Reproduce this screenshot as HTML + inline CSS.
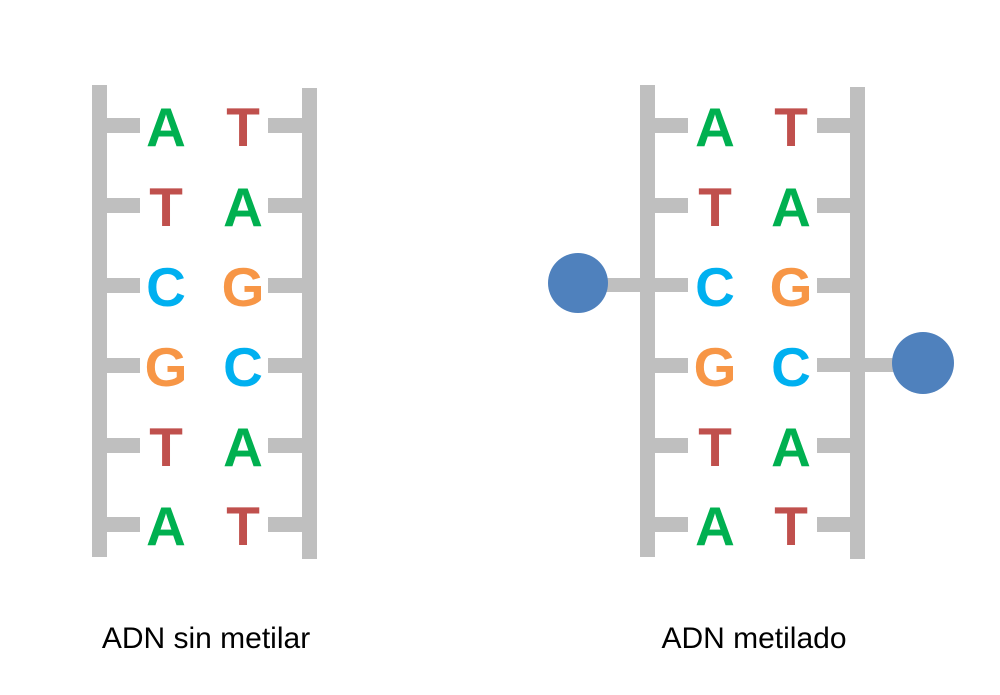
<!DOCTYPE html>
<html>
<head>
<meta charset="utf-8">
<style>
  html, body { margin: 0; padding: 0; background: #ffffff; }
  svg { display: block; }
  .b { font-family: "Liberation Sans", Arial, sans-serif; font-weight: bold; font-size: 55px; }
  .l { font-family: "Liberation Sans", Arial, sans-serif; font-size: 30px; fill: #000; }
</style>
</head>
<body>
<svg width="1000" height="695" viewBox="0 0 1000 695" xmlns="http://www.w3.org/2000/svg">
  <rect width="1000" height="695" fill="#ffffff"/>

  <!-- LEFT LADDER -->
  <g fill="#bfbfbf">
    <rect x="92" y="85" width="15" height="472"/>
    <rect x="302" y="88" width="15" height="471"/>
    <rect x="92" y="118" width="48" height="15"/>
    <rect x="92" y="198" width="48" height="15"/>
    <rect x="92" y="278" width="48" height="15"/>
    <rect x="92" y="358" width="48" height="15"/>
    <rect x="92" y="438" width="48" height="15"/>
    <rect x="92" y="517" width="48" height="15"/>
    <rect x="268" y="118" width="40" height="15"/>
    <rect x="268" y="198" width="40" height="15"/>
    <rect x="268" y="278" width="40" height="15"/>
    <rect x="268" y="358" width="40" height="15"/>
    <rect x="268" y="438" width="40" height="15"/>
    <rect x="268" y="517" width="40" height="15"/>
  </g>
  <g class="b" text-anchor="middle">
    <text x="166" y="146" fill="#00b050">A</text>
    <text x="243" y="146" fill="#c0504d">T</text>
    <text x="166" y="226" fill="#c0504d">T</text>
    <text x="243" y="226" fill="#00b050">A</text>
    <text x="166" y="306" fill="#00b0f0">C</text>
    <text x="243" y="306" fill="#f79646">G</text>
    <text x="166" y="386" fill="#f79646">G</text>
    <text x="243" y="386" fill="#00b0f0">C</text>
    <text x="166" y="466" fill="#c0504d">T</text>
    <text x="243" y="466" fill="#00b050">A</text>
    <text x="166" y="545" fill="#00b050">A</text>
    <text x="243" y="545" fill="#c0504d">T</text>
  </g>
  <text class="l" x="206" y="648" text-anchor="middle">ADN sin metilar</text>

  <!-- RIGHT LADDER -->
  <g fill="#bfbfbf">
    <rect x="640" y="85" width="15" height="472"/>
    <rect x="850" y="87" width="15" height="472"/>
    <rect x="640" y="118" width="48" height="15"/>
    <rect x="640" y="198" width="48" height="15"/>
    <rect x="600" y="278" width="88" height="14"/>
    <rect x="640" y="358" width="48" height="15"/>
    <rect x="640" y="438" width="48" height="15"/>
    <rect x="640" y="517" width="48" height="15"/>
    <rect x="817" y="118" width="40" height="15"/>
    <rect x="817" y="198" width="40" height="15"/>
    <rect x="817" y="278" width="40" height="15"/>
    <rect x="817" y="358" width="90" height="14"/>
    <rect x="817" y="438" width="40" height="15"/>
    <rect x="817" y="517" width="40" height="15"/>
  </g>
  <circle cx="578" cy="283" r="30" fill="#4f81bd"/>
  <circle cx="923" cy="363" r="31" fill="#4f81bd"/>
  <g class="b" text-anchor="middle">
    <text x="715" y="146" fill="#00b050">A</text>
    <text x="791" y="146" fill="#c0504d">T</text>
    <text x="715" y="226" fill="#c0504d">T</text>
    <text x="791" y="226" fill="#00b050">A</text>
    <text x="715" y="306" fill="#00b0f0">C</text>
    <text x="791" y="306" fill="#f79646">G</text>
    <text x="715" y="386" fill="#f79646">G</text>
    <text x="791" y="386" fill="#00b0f0">C</text>
    <text x="715" y="466" fill="#c0504d">T</text>
    <text x="791" y="466" fill="#00b050">A</text>
    <text x="715" y="545" fill="#00b050">A</text>
    <text x="791" y="545" fill="#c0504d">T</text>
  </g>
  <text class="l" x="754" y="648" text-anchor="middle">ADN metilado</text>
</svg>
</body>
</html>
